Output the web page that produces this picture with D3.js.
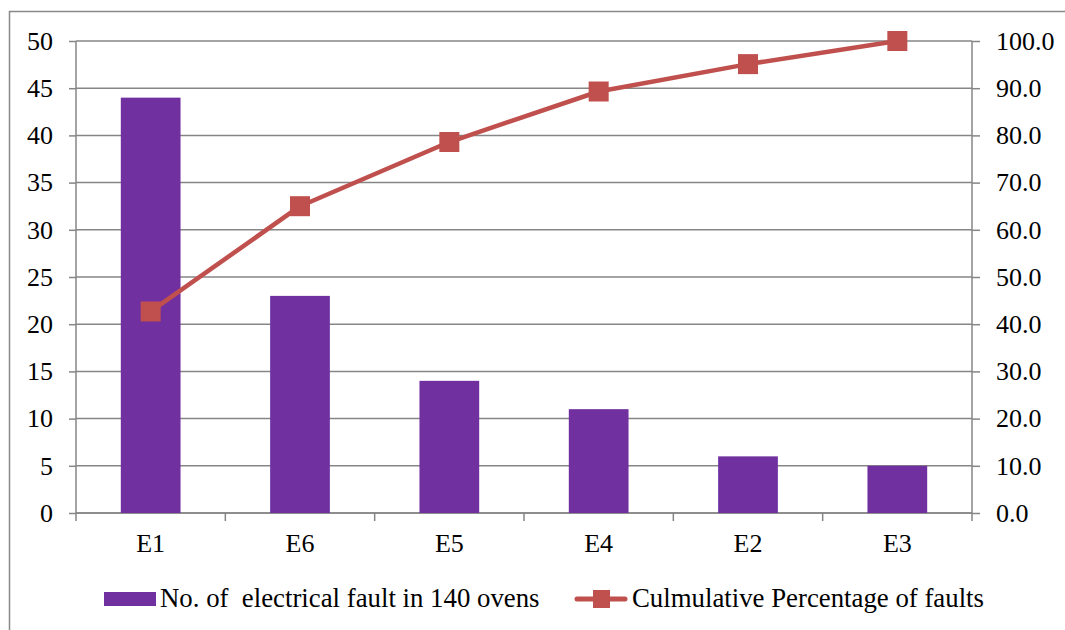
<!DOCTYPE html>
<html>
<head>
<meta charset="utf-8">
<script src="https://cdn.jsdelivr.net/npm/d3@7"></script>
<style>
  body { margin: 0; background: #fff; }
</style>
</head>
<body>
<script>
// pareto of electrical faults
var categories = ["E1", "E6", "E5", "E4", "E2", "E3"];
var faults = [44, 23, 14, 11, 6, 5];
var cumPercent = [42.7, 65.0, 78.6, 89.3, 95.1, 100.0];
var leftTicks = [0, 5, 10, 15, 20, 25, 30, 35, 40, 45, 50];
var rightTicks = [0, 10, 20, 30, 40, 50, 60, 70, 80, 90, 100];
var barLabel = "No. of\u00a0 electrical fault in 140 ovens";
var lineLabel = "Culmulative Percentage of faults";

var W = 1065, H = 630;
var margin = {top: 41, left: 76, right: 93, bottom: 117};
var width = W - margin.left - margin.right,
    height = H - margin.top - margin.bottom;

var FONT = "Liberation Serif";
var FS = 26;

var svg = d3.select("body").append("svg")
    .attr("width", W)
    .attr("height", H);

// outer frame
svg.append("rect")
    .attr("x", 9.5).attr("y", 11.5)
    .attr("width", W + 20).attr("height", H + 20)
    .attr("fill", "none")
    .attr("stroke", "#898989")
    .attr("stroke-width", 1.5);

var g = svg.append("g")
    .attr("transform", "translate(" + margin.left + "," + margin.top + ")");

var x = d3.scaleBand().domain(categories).range([0, width]).paddingInner(0.6).paddingOuter(0.3);
var xc = d3.scaleBand().domain(categories).range([0, width]);
var y = d3.scaleLinear().domain([0, 50]).range([height, 0]);
var y2 = d3.scaleLinear().domain([0, 100]).range([height, 0]);

var grey = "#868686";

// gridlines
g.selectAll(".grid")
    .data(leftTicks)
    .enter().append("line")
    .attr("x1", 0).attr("x2", width)
    .attr("y1", function(d){ return y(d); })
    .attr("y2", function(d){ return y(d); })
    .attr("stroke", grey)
    .attr("stroke-width", 1.5);

// left axis
var left = g.append("g")
    .call(d3.axisLeft(y).tickValues(leftTicks).tickSize(7).tickPadding(16));
left.select(".domain").attr("stroke", grey).attr("stroke-width", 1.5).attr("d", "M0," + height + "V0");
left.selectAll(".tick line").attr("stroke", grey).attr("stroke-width", 1.5);
left.selectAll("text")
    .attr("fill", "#000").attr("font-family", FONT).attr("font-size", FS);

// right axis
var right = g.append("g")
    .attr("transform", "translate(" + width + ",0)")
    .call(d3.axisRight(y2).tickValues(rightTicks).tickSize(8).tickPadding(16).tickFormat(d3.format(".1f")));
right.select(".domain").attr("stroke", grey).attr("stroke-width", 1.5).attr("d", "M0," + height + "V0");
right.selectAll(".tick line").attr("stroke", grey).attr("stroke-width", 1.5);
right.selectAll("text")
    .attr("fill", "#000").attr("font-family", FONT).attr("font-size", FS);

// bottom axis with ticks at band edges
var bottom = g.append("g")
    .attr("transform", "translate(0," + height + ")");
bottom.append("line")
    .attr("x1", 0).attr("x2", width)
    .attr("stroke", grey).attr("stroke-width", 1.5);
var edges = categories.map(function(c){ return xc(c); }).concat([width]);
bottom.selectAll(".edge")
    .data(edges)
    .enter().append("line")
    .attr("x1", function(d){ return d; }).attr("x2", function(d){ return d; })
    .attr("y1", 0).attr("y2", 8)
    .attr("stroke", grey).attr("stroke-width", 1.5);
bottom.selectAll(".lab")
    .data(categories)
    .enter().append("text")
    .attr("x", function(d){ return xc(d) + xc.bandwidth() / 2; })
    .attr("y", 39)
    .attr("text-anchor", "middle")
    .attr("font-family", FONT).attr("font-size", FS)
    .text(function(d){ return d; });

// bars
var purple = "#7030a0";
g.selectAll(".bar")
    .data(faults)
    .enter().append("rect")
    .attr("class", "bar")
    .attr("x", function(d, i){ return x(categories[i]); })
    .attr("width", x.bandwidth())
    .attr("y", function(d){ return y(d); })
    .attr("height", function(d){ return height - y(d); })
    .attr("fill", purple);

// cumulative line
var red = "#c0504d";
var line = d3.line()
    .x(function(d, i){ return xc(categories[i]) + xc.bandwidth() / 2; })
    .y(function(d){ return y2(d); });
g.append("path")
    .datum(cumPercent)
    .attr("d", line)
    .attr("fill", "none")
    .attr("stroke", red)
    .attr("stroke-width", 4.5)
    .attr("stroke-linejoin", "round");
g.selectAll(".mark")
    .data(cumPercent)
    .enter().append("rect")
    .attr("x", function(d, i){ return xc(categories[i]) + xc.bandwidth() / 2 - 10; })
    .attr("y", function(d){ return y2(d) - 10; })
    .attr("width", 20).attr("height", 20)
    .attr("fill", red);

// legend
var leg = svg.append("g");
leg.append("rect")
    .attr("x", 104).attr("y", 592).attr("width", 52).attr("height", 14)
    .attr("fill", purple);
leg.append("text")
    .attr("x", 160).attr("y", 607)
    .attr("font-family", FONT).attr("font-size", 26.8)
    .text(barLabel);
leg.append("line")
    .attr("x1", 577).attr("x2", 625).attr("y1", 599).attr("y2", 599)
    .attr("stroke", red).attr("stroke-width", 5).attr("stroke-linecap", "round");
leg.append("rect")
    .attr("x", 593).attr("y", 590).attr("width", 17).attr("height", 18)
    .attr("fill", red);
leg.append("text")
    .attr("x", 632).attr("y", 607)
    .attr("font-family", FONT).attr("font-size", 26.8)
    .text(lineLabel);
</script>
</body>
</html>
